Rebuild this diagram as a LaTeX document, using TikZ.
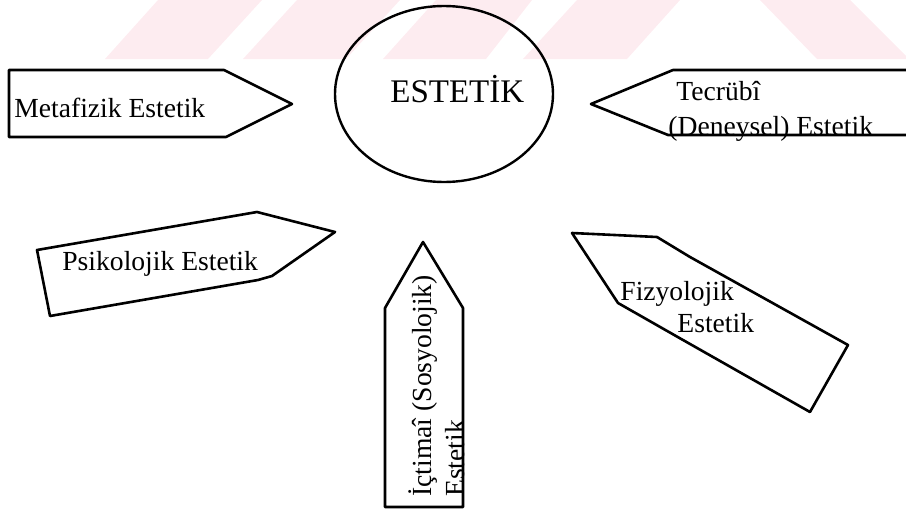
\documentclass[tikz,border=0pt]{standalone}
\usepackage{fontspec}
\setmainfont{Liberation Serif}
\usetikzlibrary{positioning, shapes.geometric}
\definecolor{wmpink}{RGB}{253,236,240}

\begin{document}
\begin{tikzpicture}[x=0.5pt, y=-0.5pt, box/.style = {draw, line width=1.3pt, line join=round}, hub/.style = {draw, ellipse, line width=1.2pt, minimum width=109pt, minimum height=88pt, inner sep=0pt}, lbl/.style = {inner sep=0pt, anchor=base west, font=\fontsize{13.8}{16}\selectfont}]
	\useasboundingbox (0,0) rectangle (906,509);
	\begin{scope}
		\clip (0,0) rectangle (906,59);
		\fill[wmpink] (105,59) -- (208,59) -- (262,0) -- (158,0) -- cycle;
		\fill[wmpink] (243,59) -- (346,59) -- (400,0) -- (297,0) -- cycle;
		\fill[wmpink] (383,59) -- (486,59) -- (532,0) -- (436,0) -- cycle;
		\fill[wmpink] (523,59) -- (627,59) -- (680,0) -- (577,0) -- cycle;
		\fill[wmpink] (760,0) -- (850,0) -- (909,59) -- (817,59) -- cycle;
	\end{scope}
	\node[hub] (estetik) at (444,94) {};
	\node[lbl, font=\fontsize{16.5}{20}\selectfont] (hubtext) at (390,102) {ESTETİK};
	\draw[box] (9,70) -- (224,70) -- (292,104) -- (226,137) -- (9,137) -- cycle;
	\node[lbl] (metafizik) at (14,117) {Metafizik Estetik};
	\draw[box] (906,70) -- (673,70) -- (591,104) -- (668,135) -- (906,135);
	\node[lbl] (tecrubi1) at (676,100) {Tecrübî};
	\node[lbl] (tecrubi2) at (668,135) {(Deneysel) Estetik};
	\draw[box] (37,250) -- (257,212) -- (335,232) -- (272,276) -- (258,280) -- (50,316) -- cycle;
	\node[lbl] (psikolojik) at (62,270) {Psikolojik Estetik};
	\draw[box] (385,507) -- (385,308) -- (423,242) -- (463,308) -- (463,507) -- cycle;
	\node[lbl, rotate=90] (ictimai1) at (431,497) {İçtimaî (Sosyolojik)};
	\node[lbl, rotate=90] (ictimai2) at (464,497) {Estetik};
	\draw[box] (572,233) -- (657,237) -- (690,257) -- (848,345) -- (810,412) -- (683,340) -- (618,303) -- cycle;
	\node[lbl] (fizyolojik1) at (620,300) {Fizyolojik};
	\node[lbl] (fizyolojik2) at (677,332) {Estetik};
\end{tikzpicture}
\end{document}
